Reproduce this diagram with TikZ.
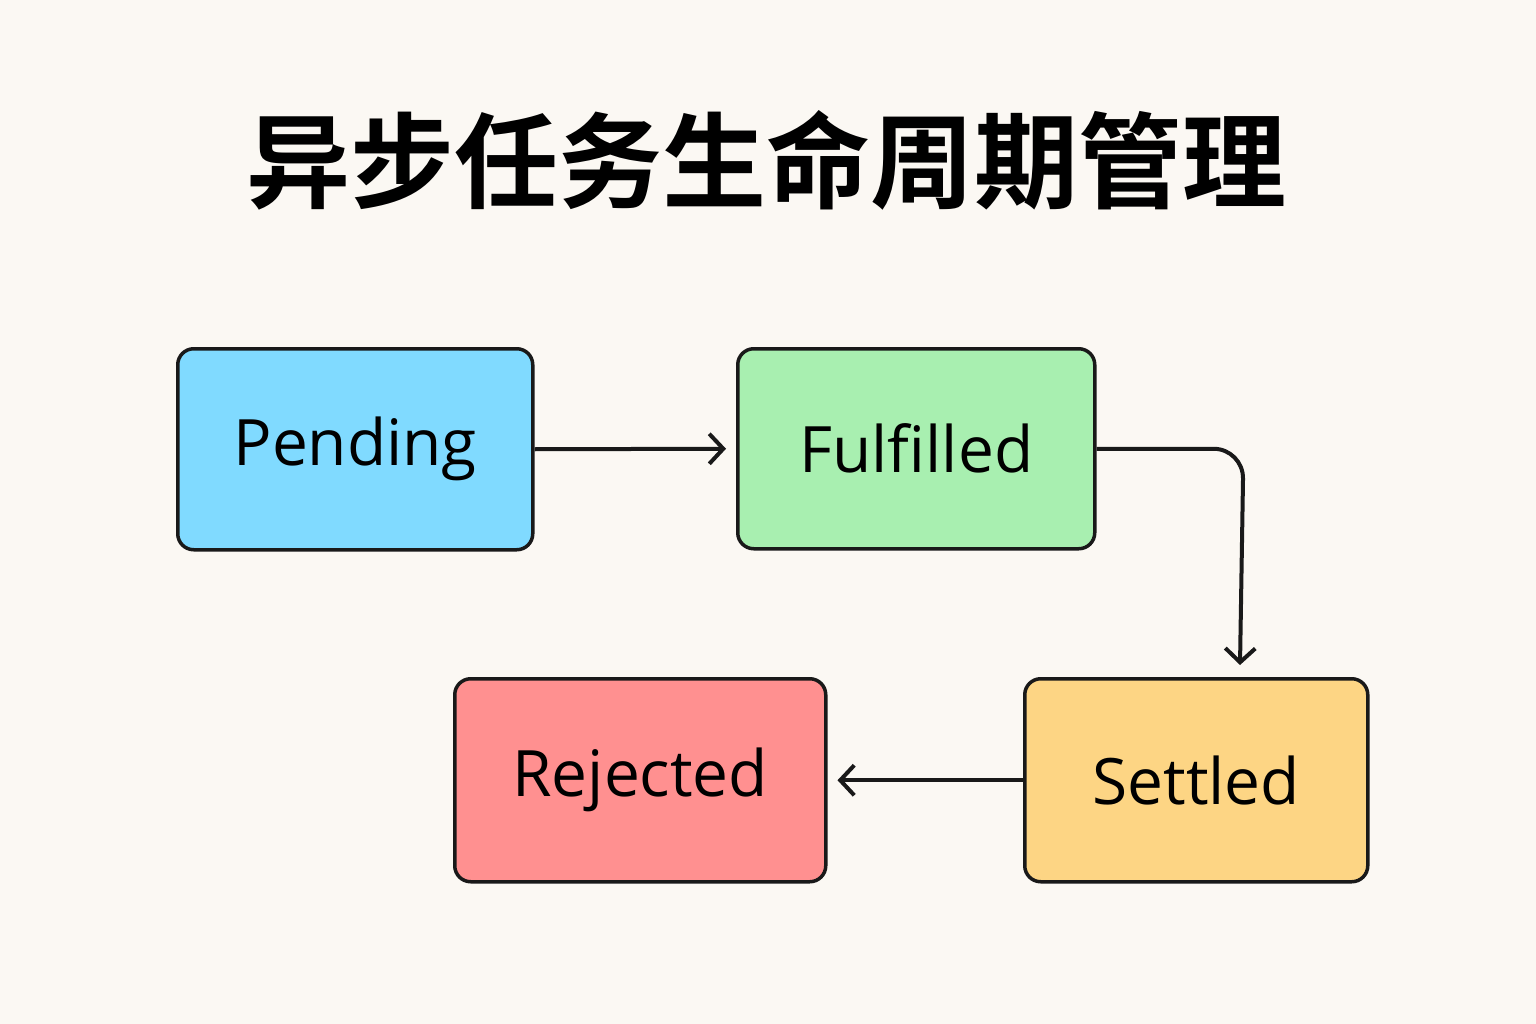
\documentclass[tikz,border=0pt]{standalone}
\usepackage{fontspec}
\setmainfont{Open Sans}
\newfontfamily\cjk{Noto Sans CJK SC}[BoldFont={* Bold}]
\usetikzlibrary{arrows.meta}
\definecolor{bg}{HTML}{FBF8F3}
\definecolor{cP}{HTML}{80DAFF}
\definecolor{cF}{HTML}{A8EFB0}
\definecolor{cS}{HTML}{FDD584}
\definecolor{cR}{HTML}{FF9090}
\begin{document}
\begin{tikzpicture}[x=1pt,y=-1pt,
 box/.style={draw=black!90,line width=3.5pt,rounded corners=16pt,anchor=north west,inner sep=0pt,font=\fontsize{64}{66}\selectfont},
 arr/.style={draw=black!90,line width=4pt,-{Straight Barb[length=14pt,width=30pt,line width=4pt]}}]
\fill[bg] (0,0) rectangle (1536,1024);
\useasboundingbox (0,0) rectangle (1536,1024);
\node[font=\cjk\bfseries\fontsize{104}{108}\selectfont] (t) at (766,160) {异步任务生命周期管理};
\node[box,fill=cP,minimum width=355pt,minimum height=201pt] (p) at (176,347) {Pending};
\node[box,fill=cF,minimum width=357pt,minimum height=200pt] (f) at (736,347) {Fulfilled};
\node[box,fill=cS,minimum width=343pt,minimum height=203pt] (s) at (1023,677) {Settled};
\node[box,fill=cR,minimum width=371pt,minimum height=203pt] (r) at (453,677) {Rejected};
\coordinate (c) at (1240,665);
\draw[arr] (p.east) -- ([xshift=-10pt]f.west);
\draw[arr,rounded corners=30pt] (f.east) -- ++(147,0) -- (c);
\draw[arr] (s.west) -- ([xshift=10pt]r.east);
\end{tikzpicture}
\end{document}
